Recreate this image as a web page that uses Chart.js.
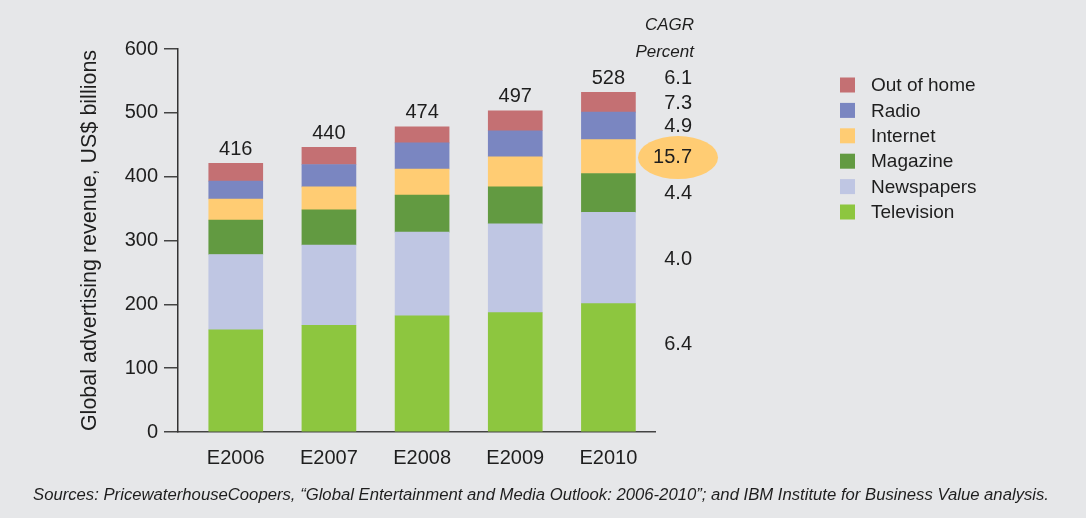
<!DOCTYPE html>
<html lang="en">
<head>
  <meta charset="UTF-8">
  <title>Global advertising revenue</title>
  <script src="https://cdn.jsdelivr.net/npm/chart.js"></script>
  <style>
    html, body { margin: 0; padding: 0; background: #e6e7e9; }
    #wrap { position: relative; width: 1086px; height: 518px; }
    #source {
      position: absolute; left: 33px; top: 485px; margin: 0;
      font-family: 'Liberation Sans', Arial, sans-serif;
      font-style: italic; font-size: 16.7px; color: #1e1e1e; white-space: nowrap;
    }
  </style>
</head>
<body>
<div id="wrap">
  <canvas id="adChart" width="1086" height="518"></canvas>
  <p id="source">Sources: PricewaterhouseCoopers, “Global Entertainment and Media Outlook: 2006-2010”; and IBM Institute for Business Value analysis.</p>
</div>

<script>
  // values in US$ billions
  const years = ['E2006', 'E2007', 'E2008', 'E2009', 'E2010'];
  const television = [160, 167, 182, 187, 201];
  const newspapers = [118, 126, 131, 139, 143];
  const magazine   = [54, 55, 58, 58, 61];
  const internet   = [33, 36, 41, 47, 53];
  const radio      = [28, 35, 41, 41, 43];
  const outOfHome  = [28, 27, 25, 31, 31];
  const totals     = [416, 440, 474, 497, 528];
  // CAGR percent, total first, then series bottom to top
  const cagrTotal  = '6.1';
  const cagrSeries = ['6.4', '4.0', '4.4', '15.7', '4.9', '7.3'];
  const yTicks = [0, 100, 200, 300, 400, 500, 600];

  const FONT = "'Liberation Sans', Arial, sans-serif";
  Chart.defaults.font.family = FONT;
  Chart.defaults.color = '#1e1e1e';

  const toPoints = arr => arr.map((v, i) => ({ x: i, y: v }));

  const series = [
    { label: 'Television', data: television, color: '#8dc63f' },
    { label: 'Newspapers', data: newspapers, color: '#bfc6e3' },
    { label: 'Magazine',   data: magazine,   color: '#629a41' },
    { label: 'Internet',   data: internet,   color: '#ffcc73' },
    { label: 'Radio',      data: radio,      color: '#7a86c1' },
    { label: 'Out of home', data: outOfHome, color: '#c47073' },
  ];

  const extras = {
    id: 'extras',
    afterDraw(chart) {
      const ctx = chart.ctx;
      const xs = chart.scales.x, ys = chart.scales.y;
      const last = years.length - 1;
      ctx.save();
      ctx.fillStyle = '#1e1e1e';
      ctx.font = '20px ' + FONT;
      ctx.textAlign = 'center';
      ctx.textBaseline = 'middle';

      // totals above bars
      years.forEach((y, i) => {
        const top = series.reduce((s, d) => s + d.data[i], 0);
        ctx.fillText(String(totals[i]), xs.getPixelForValue(i), ys.getPixelForValue(top) - 14);
      });

      // CAGR column
      const cx = chart.chartArea.right + 37;
      ctx.textAlign = 'right';
      ctx.font = 'italic 17px ' + FONT;
      ctx.fillText('CAGR', cx + 2, 25);
      ctx.fillText('Percent', cx + 2, 52);
      ctx.font = '20px ' + FONT;
      const sumLast = series.reduce((s, d) => s + d.data[last], 0);
      ctx.fillText(cagrTotal, cx, ys.getPixelForValue(sumLast) - 14);
      let base = 0;
      series.forEach((d, k) => {
        // bottom label sits a bit higher in the original
        const frac = k === 0 ? 0.69 : 0.5;
        const mid = ys.getPixelForValue(base + d.data[last] * frac) + 1;
        base += d.data[last];
        if (d.label === 'Internet') {
          ctx.fillStyle = '#ffcc73';
          ctx.beginPath();
          ctx.ellipse(cx - 14, mid, 40, 21.5, 0, 0, Math.PI * 2);
          ctx.fill();
          ctx.fillStyle = '#1e1e1e';
        }
        ctx.fillText(cagrSeries[k], cx, mid);
      });

      // legend, top series first
      ctx.font = '19px ' + FONT;
      ctx.textAlign = 'left';
      series.slice().reverse().forEach((d, k) => {
        const ry = 85 + k * 25.4;
        ctx.fillStyle = d.color;
        ctx.fillRect(840, ry - 7.5, 15, 15);
        ctx.fillStyle = '#1e1e1e';
        ctx.fillText(d.label, 871, ry + 1);
      });
      ctx.restore();
    }
  };

  new Chart(document.getElementById('adChart'), {
    type: 'bar',
    data: {
      datasets: series.map(s => ({
        label: s.label,
        data: toPoints(s.data),
        backgroundColor: s.color,
        borderWidth: 0,
        barThickness: 54,
      })),
    },
    options: {
      responsive: false,
      animation: false,
      layout: { padding: { left: 0, top: 49, right: 431, bottom: 36 } },
      plugins: { legend: { display: false }, tooltip: { enabled: false } },
      scales: {
        x: {
          type: 'linear',
          stacked: true,
          offset: false,
          min: -0.62,
          max: 4.5,
          afterBuildTicks: scale => { scale.ticks = years.map((_, i) => ({ value: i })); },
          afterFit: scale => { scale.height = 50; },
          ticks: { callback: v => years[v], font: { size: 20 }, color: '#1e1e1e', padding: 6 },
          grid: { display: false },
          border: { color: '#444', width: 1.5 },
        },
        y: {
          stacked: true,
          min: 0,
          max: 600,
          afterBuildTicks: scale => { scale.ticks = yTicks.map(v => ({ value: v })); },
          afterFit: scale => { scale.width = 178; },
          ticks: { font: { size: 20 }, color: '#1e1e1e', padding: 6 },
          grid: { drawOnChartArea: false, tickLength: 14, color: '#444', lineWidth: 1.5 },
          border: { color: '#333', width: 1.5 },
          title: {
            display: true,
            text: 'Global advertising revenue, US$ billions',
            font: { size: 21.5 },
            color: '#1e1e1e',
            padding: { top: 77, bottom: 0 },
          },
        },
      },
    },
    plugins: [extras],
  });
</script>
</body>
</html>
